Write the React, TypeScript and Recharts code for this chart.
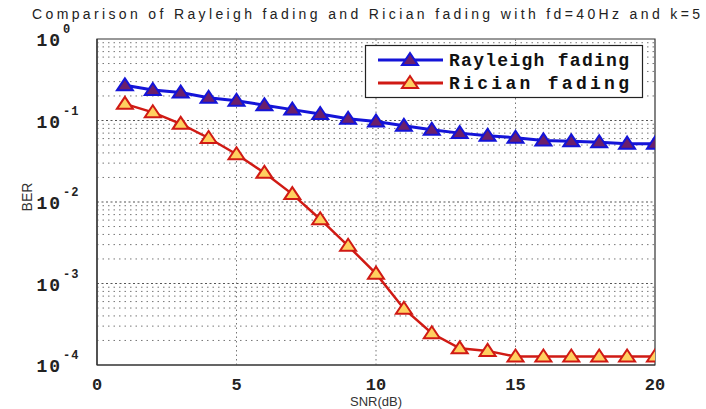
import React from 'react';
import { LineChart, Line, XAxis, YAxis, ReferenceLine, ReferenceArea } from 'recharts';

const snrValues = [1, 2, 3, 4, 5, 6, 7, 8, 9, 10, 11, 12, 13, 14, 15, 16, 17, 18, 19, 20];
const rayleighBer = [0.27, 0.237, 0.22, 0.19, 0.175, 0.154, 0.136, 0.12, 0.105, 0.097, 0.086, 0.077, 0.07, 0.065, 0.0615, 0.057, 0.0555, 0.054, 0.052, 0.052];
const ricianBer = [0.16, 0.126, 0.091, 0.061, 0.0385, 0.0228, 0.0125, 0.00615, 0.0029, 0.00132, 0.00049, 0.000245, 0.00016, 0.000149, 0.000127, 0.000127, 0.000127, 0.000127, 0.000127, 0.000127];

const xTicks = [0, 5, 10, 15, 20];
const yTicks = [0.0001, 0.001, 0.01, 0.1, 1];
const yTickExponents = ['-4', '-3', '-2', '-1', '0'];
const xGridValues = [5, 10, 15];
const yMinorGrid = [
  0.0002, 0.0003, 0.0004, 0.0005, 0.0006, 0.0007, 0.0008, 0.0009,
  0.002, 0.003, 0.004, 0.005, 0.006, 0.007, 0.008, 0.009,
  0.02, 0.03, 0.04, 0.05, 0.06, 0.07, 0.08, 0.09,
  0.2, 0.3, 0.4, 0.5, 0.6, 0.7, 0.8, 0.9,
];
const yMajorGrid = [0.001, 0.01, 0.1];

const seriesNames = ['Rayleigh fading', 'Rician fading'];
const titleText = 'Comparison of Rayleigh fading and Rician fading with fd=40Hz and k=5';

const data = snrValues.map((s, i) => ({ snr: s, rayleigh: rayleighBer[i], rician: ricianBer[i] }));

const BLUE = '#1414d8';
const RED = '#d01a14';
const BLUE_FILL = '#6b1f6b';
const RED_FILL = '#ffd060';
const GRID = '#777';
const TICK_FONT = "'Liberation Mono', monospace";

const Tri = (props: any) => {
  const { cx, cy, stroke, fill } = props;
  if (cx == null || cy == null) return null;
  return (
    <polygon
      points={`${cx},${cy - 7} ${cx - 8},${cy + 5} ${cx + 8},${cy + 5}`}
      fill={fill}
      stroke={stroke}
      strokeWidth={2}
    />
  );
};

const YTick = (props: any) => {
  const { x, y, payload } = props;
  const idx = yTicks.indexOf(payload.value);
  const exp = idx >= 0 ? yTickExponents[idx] : '';
  return (
    <g>
      <text x={x - 27} y={y + 7} textAnchor="end" fontFamily={TICK_FONT} fontWeight="bold" fontSize={18} fill="#222" letterSpacing={2}>
        10
      </text>
      <text x={x - 26} y={y - 6} textAnchor="start" fontFamily={TICK_FONT} fontWeight="bold" fontSize={12} fill="#222" letterSpacing={1}>
        {exp}
      </text>
    </g>
  );
};

const XTick = (props: any) => {
  const { x, y, payload } = props;
  return (
    <text x={x} y={y + 17} textAnchor="middle" fontFamily={TICK_FONT} fontWeight="bold" fontSize={17} fill="#222">
      {payload.value}
    </text>
  );
};

const legendRows = [
  { name: seriesNames[0], stroke: BLUE, fill: BLUE_FILL, y: 15 },
  { name: seriesNames[1], stroke: RED, fill: RED_FILL, y: 38 },
];

export default function App() {
  return (
    <div style={{ position: 'absolute', left: 0, top: 0, width: 706, height: 409, background: '#fff' }}>
      <LineChart width={706} height={409} data={data} margin={{ top: 39, right: 51, left: 37, bottom: 14 }}>
        <XAxis
          dataKey="snr"
          type="number"
          domain={[0, 20]}
          ticks={xTicks}
          tick={<XTick />}
          tickLine={false}
          axisLine={{ stroke: '#333', strokeWidth: 1.2 }}
          height={30}
          allowDataOverflow
        />
        <YAxis
          type="number"
          scale="log"
          domain={[0.0001, 1]}
          ticks={yTicks}
          tick={<YTick />}
          tickLine={false}
          axisLine={{ stroke: '#333', strokeWidth: 1.2 }}
          width={60}
          allowDataOverflow
        />
        {yMinorGrid.map((v) => (
          <ReferenceLine key={'m' + v} y={v} stroke={GRID} strokeWidth={1} strokeDasharray="1.5 4" />
        ))}
        {yMajorGrid.map((v) => (
          <ReferenceLine key={'M' + v} y={v} stroke="#555" strokeWidth={1.2} strokeDasharray="2 2.5" />
        ))}
        {xGridValues.map((v) => (
          <ReferenceLine key={'x' + v} x={v} stroke={GRID} strokeWidth={1} strokeDasharray="1.5 3" />
        ))}
        <ReferenceArea x1={0} x2={20} y1={0.0001} y2={1} fill="none" stroke="#333" strokeWidth={1.2} />
        <Line
          type="linear"
          dataKey="rayleigh"
          name={seriesNames[0]}
          stroke={BLUE}
          strokeWidth={3}
          dot={<Tri stroke={BLUE} fill={BLUE_FILL} />}
          isAnimationActive={false}
        />
        <Line
          type="linear"
          dataKey="rician"
          name={seriesNames[1]}
          stroke={RED}
          strokeWidth={2.5}
          dot={<Tri stroke={RED} fill={RED_FILL} />}
          isAnimationActive={false}
        />
      </LineChart>
      <svg width={706} height={409} style={{ position: 'absolute', left: 0, top: 0, pointerEvents: 'none' }}>
        <text x={32} y={19} fontFamily="'Liberation Sans', Arial, sans-serif" fontSize={14} fill="#222" textLength={668} lengthAdjust="spacing">
          {titleText}
        </text>
        <text x={0} y={0} transform="translate(32,197) rotate(-90)" textAnchor="middle" fontFamily="'Liberation Sans', Arial, sans-serif" fontSize={14} fill="#333">
          BER
        </text>
        <text x={376} y={406} textAnchor="middle" fontFamily="'Liberation Sans', Arial, sans-serif" fontSize={13} fill="#333">
          SNR(dB)
        </text>
        <g transform="translate(365,45)">
          <rect x={0.5} y={0.5} width={277} height={52} fill="#fff" stroke="#222" strokeWidth={1.2} />
          {legendRows.map((r) => (
            <g key={r.name}>
              <line x1={13} x2={78} y1={r.y} y2={r.y} stroke={r.stroke} strokeWidth={3} />
              <Tri cx={45} cy={r.y} stroke={r.stroke} fill={r.fill} />
              <text x={84} y={r.y + 6} fontFamily={TICK_FONT} fontWeight="bold" fontSize={18} fill="#111" textLength={180} lengthAdjust="spacing">
                {r.name}
              </text>
            </g>
          ))}
        </g>
      </svg>
    </div>
  );
}
